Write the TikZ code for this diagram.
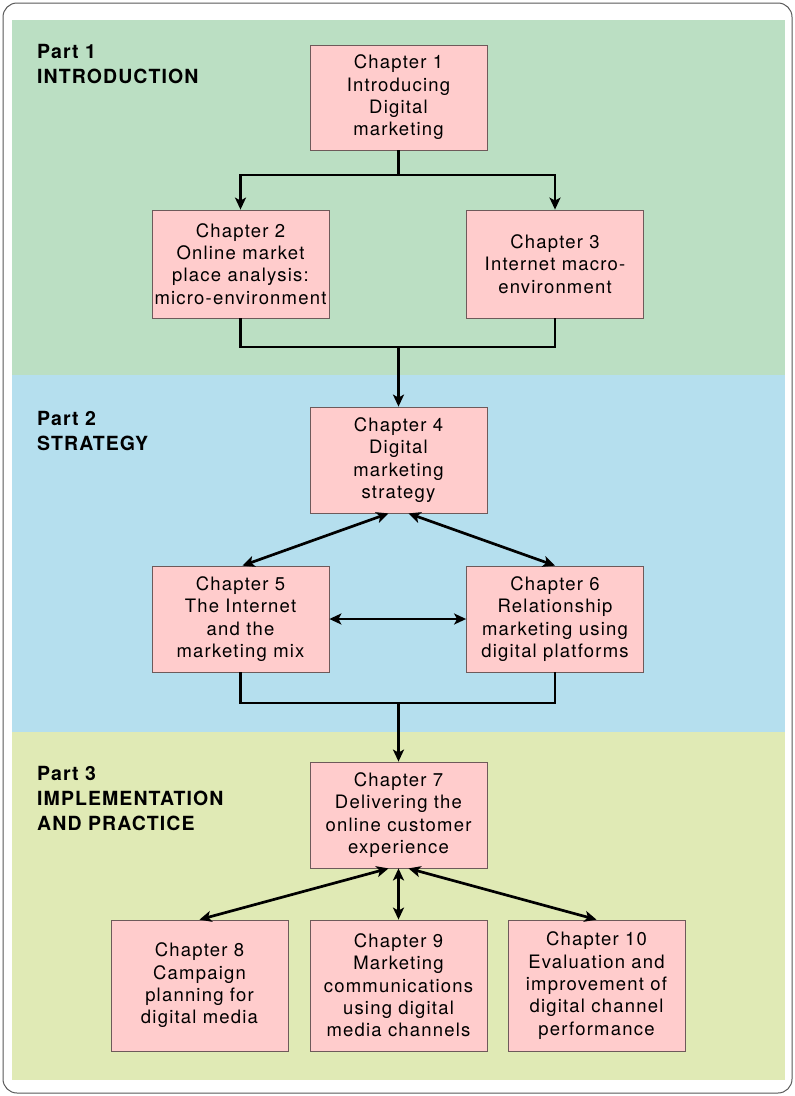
\documentclass[tikz,border=0pt]{standalone}
\usepackage{fontspec}
\setmainfont{TeX Gyre Heros}
\newfontfamily\boxfont[LetterSpace=6.5]{TeX Gyre Heros}
\newfontfamily\partfont[LetterSpace=5.5]{TeX Gyre Heros Bold}
\usetikzlibrary{arrows.meta}
\definecolor{pgreen}{HTML}{BBDFC3}
\definecolor{pblue}{HTML}{B5DFEE}
\definecolor{pyellow}{HTML}{E0EAB5}
\definecolor{boxpink}{HTML}{FFCCCC}
\definecolor{boxedge}{HTML}{6E5A5A}
\begin{document}
\begin{tikzpicture}[x=1pt,y=-1pt,
  chap/.style={draw=boxedge,line width=0.8pt,fill=boxpink,minimum width=177pt,align=center,
    inner sep=0pt,font=\boxfont\fontsize{18.5}{22.3}\selectfont,
    execute at begin node={\rule{0pt}{20pt}}},
  partlbl/.style={anchor=north west,align=left,inner sep=0pt,font=\partfont\fontsize{19.5}{25}\selectfont},
  conn/.style={line width=2.7pt},
  arr/.style={conn,-{Stealth[length=12pt,width=11pt,inset=3pt]}},
  darr/.style={conn,{Stealth[length=12pt,width=11pt,inset=3pt]}-{Stealth[length=12pt,width=11pt,inset=3pt]}}
]
\useasboundingbox (0,0) rectangle (795,1096);
\fill[white] (0,0) rectangle (795,1096);
\draw[gray!70!black,line width=1pt,rounded corners=14pt] (3,3) rectangle (792,1093);
\fill[pgreen] (12,20) rectangle (785,375);
\fill[pblue] (12,375) rectangle (785,732);
\fill[pyellow] (12,732) rectangle (785,1080);

\node[partlbl] (p1) at (37,44) {Part 1\\INTRODUCTION};
\node[partlbl] (p2) at (37,411) {Part 2\\STRATEGY};
\node[partlbl] (p3) at (37,766) {Part 3\\IMPLEMENTATION\\AND PRACTICE};

\node[chap,minimum height=105pt] (c1) at (398.5,97.5) {Chapter 1\\Introducing\\Digital\\marketing};
\node[chap,minimum height=108pt] (c2) at (240.5,264) {Chapter 2\\Online market\\place analysis:\\micro-environment};
\node[chap,minimum height=108pt] (c3) at (555,264) {Chapter 3\\Internet macro-\\environment};
\node[chap,minimum height=106pt] (c4) at (398.5,460) {Chapter 4\\Digital\\marketing\\strategy};
\node[chap,minimum height=106pt] (c5) at (240.5,619) {Chapter 5\\The Internet\\and the\\marketing mix};
\node[chap,minimum height=106pt] (c6) at (555,619) {Chapter 6\\Relationship\\marketing using\\digital platforms};
\node[chap,minimum height=106pt] (c7) at (398.5,815) {Chapter 7\\Delivering the\\online customer\\experience};
\node[chap,minimum height=131pt] (c8) at (199.5,985.5) {Chapter 8\\Campaign\\planning for\\digital media};
\node[chap,minimum height=131pt] (c9) at (398.5,985.5) {Chapter 9\\Marketing\\communications\\using digital\\media channels};
\node[chap,minimum height=131pt] (c10) at (596.5,985.5) {Chapter 10\\Evaluation and\\improvement of\\digital channel\\performance};

% Part 1 connectors
\coordinate (f1) at (398.5,175);
\draw[conn] (c1.south) -- (f1);
\draw[arr] (f1) -| (c2.north);
\draw[arr] (f1) -| (c3.north);
\coordinate (j1) at (398.5,347);
\draw[conn] (c2.south) |- (j1) -| (c3.south);
\draw[arr] (j1) -- (c4.north);

% Part 2 connectors
\draw[darr] ([xshift=-10pt]c4.south) -- ([xshift=2pt]c5.north);
\draw[darr] ([xshift=10pt]c4.south) -- (c6.north);
\draw[darr] (c5.east) -- (c6.east -| c6.west);
\coordinate (j2) at (398.5,703);
\draw[conn] (c5.south) |- (j2) -| (c6.south);
\draw[arr] (j2) -- (c7.north);

% Part 3 connectors
\draw[darr] ([xshift=-10pt]c7.south) -- (c8.north);
\draw[darr] (c7.south) -- (c9.north);
\draw[darr] ([xshift=10pt]c7.south) -- (c10.north);
\end{tikzpicture}
\end{document}
